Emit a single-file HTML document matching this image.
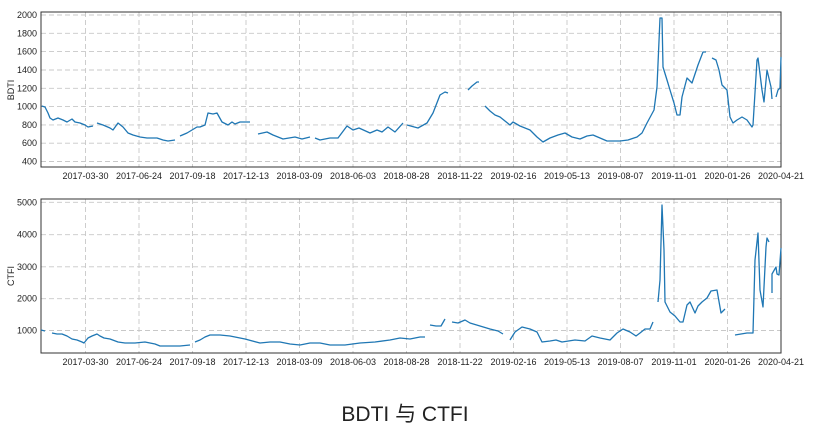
<!DOCTYPE html><html><head><meta charset="utf-8"><style>body{margin:0;background:#fff}svg{display:block;font-family:"Liberation Sans","DejaVu Sans",sans-serif}</style></head><body>
<svg width="820" height="439" viewBox="0 0 820 439">
<g stroke="#c8c8c8" stroke-dasharray="5,3" stroke-width="0.9">
<path d="M85.5 12V167M139 12V167M192.5 12V167M246 12V167M299.5 12V167M353 12V167M406.5 12V167M460 12V167M513.5 12V167M567 12V167M620.5 12V167M674 12V167M727.5 12V167"/>
<path d="M41 15H781M41 33.3H781M41 51.6H781M41 70H781M41 88.3H781M41 106.6H781M41 124.9H781M41 143.2H781M41 161.5H781"/>
<path d="M85.5 199V353M139 199V353M192.5 199V353M246 199V353M299.5 199V353M353 199V353M406.5 199V353M460 199V353M513.5 199V353M567 199V353M620.5 199V353M674 199V353M727.5 199V353"/>
<path d="M41 202.3H781M41 234.7H781M41 266.8H781M41 298.7H781M41 330.5H781"/>
</g>
<rect x="41" y="12" width="740" height="155" fill="none" stroke="#333" stroke-width="1"/>
<rect x="41" y="199" width="740" height="154" fill="none" stroke="#333" stroke-width="1"/>
<g font-size="9" fill="#222" text-anchor="end">
<text x="37" y="18">2000</text><text x="37" y="36.3">1800</text><text x="37" y="54.6">1600</text><text x="37" y="73">1400</text><text x="37" y="91.3">1200</text><text x="37" y="109.6">1000</text><text x="37" y="128">800</text><text x="37" y="146.2">600</text><text x="37" y="164.5">400</text>
<text x="37" y="205.3">5000</text><text x="37" y="237.7">4000</text><text x="37" y="269.8">3000</text><text x="37" y="301.7">2000</text><text x="37" y="333.5">1000</text>
</g>
<g font-size="9" fill="#222" text-anchor="middle">
<text x="85.5" y="179">2017-03-30</text><text x="139" y="179">2017-06-24</text><text x="192.5" y="179">2017-09-18</text><text x="246" y="179">2017-12-13</text><text x="299.5" y="179">2018-03-09</text><text x="353" y="179">2018-06-03</text><text x="406.5" y="179">2018-08-28</text><text x="460" y="179">2018-11-22</text><text x="513.5" y="179">2019-02-16</text><text x="567" y="179">2019-05-13</text><text x="620.5" y="179">2019-08-07</text><text x="674" y="179">2019-11-01</text><text x="727.5" y="179">2020-01-26</text><text x="781" y="179">2020-04-21</text>
<text x="85.5" y="365">2017-03-30</text><text x="139" y="365">2017-06-24</text><text x="192.5" y="365">2017-09-18</text><text x="246" y="365">2017-12-13</text><text x="299.5" y="365">2018-03-09</text><text x="353" y="365">2018-06-03</text><text x="406.5" y="365">2018-08-28</text><text x="460" y="365">2018-11-22</text><text x="513.5" y="365">2019-02-16</text><text x="567" y="365">2019-05-13</text><text x="620.5" y="365">2019-08-07</text><text x="674" y="365">2019-11-01</text><text x="727.5" y="365">2020-01-26</text><text x="781" y="365">2020-04-21</text>
</g>
<text x="14" y="90" font-size="9" fill="#222" text-anchor="middle" transform="rotate(-90 14 90)">BDTI</text>
<text x="14" y="276" font-size="9" fill="#222" text-anchor="middle" transform="rotate(-90 14 276)">CTFI</text>
<text x="405" y="421" font-size="21" fill="#222" text-anchor="middle" font-family="Liberation Sans,'Noto Sans CJK SC',sans-serif">BDTI 与 CTFI</text>
<g fill="none" stroke="#1f77b4" stroke-width="1.3" stroke-linejoin="round">
<polyline points="41.7,106 45,107 48,113 50,118 53,120 58,118 63,120 67,122 72,119 75,122 80,123 85,125 88,127 93,126"/>
<polyline points="97,123 103,125 110,128 113,130 118,123 123,127 128,133 133,135 140,137 147,138 157,138 163,140 168,141 175,140"/>
<polyline points="180,136 187,133 192,130 197,127 200,127 205,125 208,113 213,114 217,113 222,122 228,125 232,122 235,124 240,122 250,122"/>
<polyline points="258,134 267,132 273,135 283,139 295,137 302,139 310,137"/>
<polyline points="315,138 320,140 330,138 338,138 347,126 353,130 359,128 370,133 377,130 382,132 388,127 395,132 403,123"/>
<polyline points="407,125 418,128 427,123 433,113 440,95 445,92 448,93"/>
<polyline points="468,90 472,86 477,82 479,82"/>
<polyline points="485,106 490,111 495,115 500,117 505,121 510,125 513,122 520,126 530,130 537,137 543,142 550,138 558,135 565,133 572,137 580,139 587,136 593,135 600,138 607,141 614,141 620,141 628,140 637,137 642,133 647,123 654,110 657,87 660,18 662,18 663,67 667,80 670,90 674,103 677,115 680,115 682,97 687,78 692,83 698,65 703,52 706,52"/>
<polyline points="712,58 716,60 719,70 722,85 727,90 730,117 733,123 737,120 742,117 747,120 752,127 753,125 757,60 758,58 762,90 764,102 767,70 771,87 772,99"/>
<polyline points="776,97 778,90 780,88 781,57"/>
<polyline points="41,330 45,331"/>
<polyline points="52,333 57,334 62,334 67,336 72,339 77,340 82,342 84,343 88,338 92,336 97,334 100,336 104,338 110,339 118,342 125,343 135,343 145,342 150,343 155,344 160,346 170,346 180,346 190,345"/>
<polyline points="195,342 200,340 205,337 210,335 220,335 230,336 245,339 260,343 270,342 280,342 290,344 300,345 310,343 320,343 330,345 345,345 360,343 375,342 390,340 400,338 410,339 420,337 425,337"/>
<polyline points="430,325 436,326 441,326 445,319"/>
<polyline points="452,322 458,323 465,320 470,323 480,326 490,329 498,331 503,334"/>
<polyline points="510,340 515,332 522,327 530,329 537,332 542,342 550,341 556,340 562,342 575,340 585,341 592,336 600,338 610,340 617,333 623,329 630,332 636,336 640,333 645,329 650,329 653,322"/>
<polyline points="658,302 660,280 662,205 664,250 665,302 670,312 675,316 680,322 683,322 687,305 690,302 695,313 698,306 702,302 707,298 711,291 717,290 721,313 725,309"/>
<polyline points="735,335 747,333 753,333 755,260 758,233 760,290 763,307 766,247 767,238 769,242"/>
<polyline points="772,293 772,274 776,267 777,274 779,275 781,248"/>
</g>
</svg></body></html>
